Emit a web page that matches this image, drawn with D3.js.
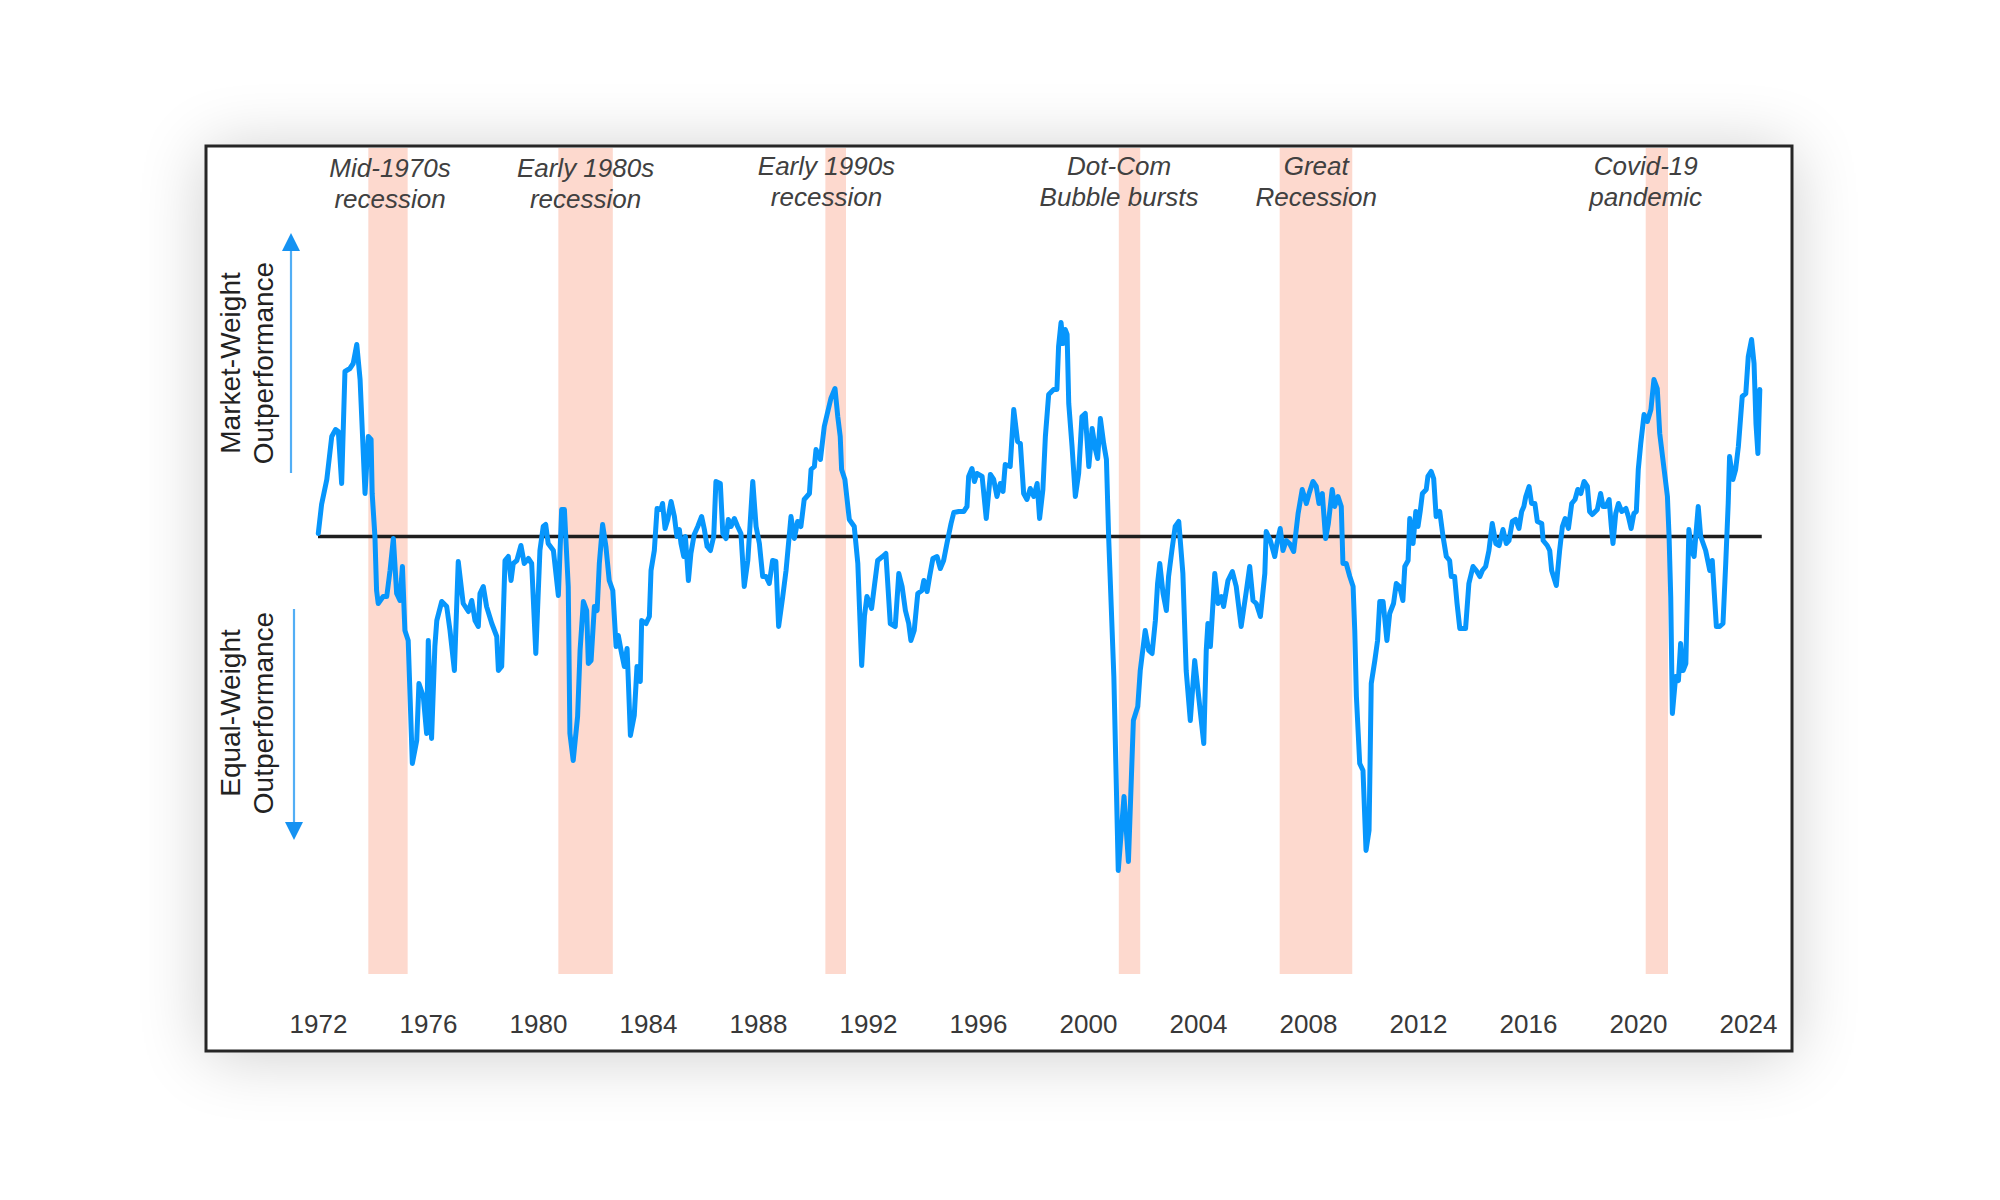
<!DOCTYPE html>
<html>
<head>
<meta charset="utf-8">
<script src="https://cdn.jsdelivr.net/npm/d3@7"></script>
<style>
  html, body { margin: 0; padding: 0; background: #ffffff; }
  svg { display: block; }
  text { font-family: "Liberation Sans", Arial, Helvetica, sans-serif; }
</style>
</head>
<body>
<svg id="chart" width="2000" height="1200"></svg>
<script>
// ---------------- DATA ----------------
const years = [
1972.01,1972.13,1972.32,1972.50,1972.64,1972.74,1972.86,1972.98,1973.16,1973.28,1973.41,1973.53,1973.71,1973.83,1973.93,1973.97,
1974.07,1974.13,1974.19,1974.37,1974.50,1974.62,1974.74,1974.86,1974.98,1975.07,1975.16,1975.28,1975.43,1975.59,1975.67,1975.83,1975.95,
1976.01,1976.13,1976.25,1976.32,1976.50,1976.68,1976.80,1976.96,1977.10,1977.28,1977.47,1977.59,1977.71,1977.83,1977.89,
1978.01,1978.13,1978.32,1978.50,1978.56,1978.68,1978.80,1978.92,1979.02,1979.10,1979.23,1979.38,1979.50,1979.65,1979.77,1979.92,
1980.07,1980.19,1980.28,1980.37,1980.56,1980.74,1980.86,1980.96,1981.10,1981.16,1981.28,1981.44,1981.53,1981.65,1981.77,1981.83,1981.93,
1982.05,1982.15,1982.23,1982.35,1982.47,1982.59,1982.72,1982.84,1982.92,1983.02,1983.14,1983.24,1983.36,1983.50,1983.60,1983.72,1983.77,1983.93,
1984.05,1984.11,1984.23,1984.33,1984.47,1984.53,1984.62,1984.72,1984.84,1984.96,1985.05,1985.14,1985.20,1985.30,1985.36,1985.47,1985.56,1985.68,1985.81,1985.95,
1986.05,1986.15,1986.27,1986.39,1986.47,1986.63,1986.72,1986.84,1986.92,1987.02,1987.14,1987.26,1987.38,1987.50,1987.63,1987.81,1987.93,
1988.05,1988.17,1988.29,1988.41,1988.53,1988.65,1988.75,1988.90,1989.02,1989.20,1989.32,1989.44,1989.56,1989.68,1989.87,1989.93,
1990.05,1990.11,1990.27,1990.41,1990.65,1990.80,1990.90,1990.99,1991.04,1991.16,1991.32,1991.50,1991.63,1991.77,1991.87,1991.96,
1992.13,1992.23,1992.35,1992.53,1992.65,1992.81,1992.99,1993.12,1993.24,1993.36,1993.48,1993.56,1993.68,1993.81,1993.96,
1994.03,1994.15,1994.24,1994.36,1994.51,1994.63,1994.75,1994.87,1995.02,1995.12,1995.30,1995.48,1995.60,1995.66,1995.78,1995.87,1995.96,
1996.15,1996.30,1996.45,1996.57,1996.69,1996.81,1996.91,1996.99,1997.17,1997.30,1997.44,1997.54,1997.66,1997.78,1997.90,
1998.03,1998.15,1998.24,1998.36,1998.45,1998.57,1998.75,1998.87,1998.93,1999.02,1999.09,1999.17,1999.24,1999.30,1999.42,1999.54,1999.66,1999.78,1999.90,
2000.03,2000.15,2000.27,2000.35,2000.45,2000.57,2000.67,2000.75,2000.94,2001.10,2001.31,2001.47,2001.65,2001.81,2001.90,
2002.08,2002.21,2002.33,2002.45,2002.53,2002.61,2002.73,2002.85,2002.93,2003.05,2003.17,2003.30,2003.45,2003.57,2003.72,2003.88,
2004.00,2004.21,2004.30,2004.36,2004.45,2004.61,2004.73,2004.85,2004.93,2005.09,2005.25,2005.39,2005.57,2005.76,2005.88,
2006.00,2006.12,2006.27,2006.43,2006.48,2006.63,2006.79,2006.87,2006.99,2007.09,2007.21,2007.33,2007.48,2007.64,2007.79,2007.94,
2008.04,2008.18,2008.30,2008.40,2008.52,2008.64,2008.74,2008.88,2008.97,2009.09,2009.21,2009.27,2009.39,2009.52,2009.64,2009.70,2009.76,2009.88,
2010.00,2010.11,2010.22,2010.30,2010.43,2010.53,2010.61,2010.73,2010.87,2010.97,2011.11,2011.21,2011.33,2011.45,2011.52,2011.64,2011.70,2011.82,2011.92,
2012.00,2012.08,2012.16,2012.30,2012.36,2012.48,2012.57,2012.66,2012.79,2012.91,2013.03,2013.15,2013.21,2013.33,2013.42,2013.52,2013.73,2013.85,
2014.00,2014.12,2014.25,2014.34,2014.46,2014.58,2014.70,2014.83,2014.95,2015.09,2015.21,2015.31,2015.43,2015.55,2015.67,2015.77,2015.85,2015.92,
2016.04,2016.13,2016.25,2016.34,2016.50,2016.55,2016.70,2016.79,2016.86,2017.03,2017.15,2017.25,2017.35,2017.47,2017.59,2017.71,2017.81,2017.92,
2018.04,2018.16,2018.24,2018.34,2018.52,2018.64,2018.73,2018.83,2018.95,2019.03,2019.09,2019.19,2019.29,2019.41,2019.56,2019.65,2019.75,2019.85,2019.94,
2020.01,2020.10,2020.22,2020.34,2020.47,2020.58,2020.70,2020.79,2020.95,2021.07,2021.13,2021.19,2021.25,2021.37,2021.47,2021.55,2021.64,2021.74,2021.85,2021.95,
2022.04,2022.10,2022.19,2022.28,2022.46,2022.61,2022.70,2022.85,2022.97,2023.09,2023.19,2023.28,2023.33,2023.45,2023.55,2023.65,2023.79,2023.92,
2024.01,2024.13,2024.22,2024.29,2024.36,2024.43
];
const values = [
0.3,3.2,5.7,10.0,10.7,10.5,5.3,16.5,16.8,17.3,19.2,15.7,4.3,10.0,9.7,4.3,
0.0,-5.4,-6.7,-6.0,-6.0,-3.4,-0.2,-5.7,-6.4,-3.0,-9.4,-10.4,-22.7,-20.4,-14.7,-16.0,-19.7,
-10.4,-20.2,-11.0,-8.4,-6.5,-7.0,-9.4,-13.4,-2.5,-6.7,-7.5,-6.4,-8.4,-9.0,-5.7,
-5.0,-7.0,-8.7,-10.0,-13.4,-13.0,-2.4,-2.0,-4.4,-2.7,-2.4,-0.9,-2.7,-2.2,-2.7,-11.7,
-1.4,1.0,1.2,-0.7,-1.4,-5.9,2.7,2.7,-5.0,-19.7,-22.4,-18.0,-11.4,-6.5,-7.4,-12.7,-12.4,
-7.0,-7.4,-2.7,1.2,-1.0,-4.4,-5.4,-11.0,-9.9,-11.4,-13.0,-11.2,-19.9,-17.9,-13.0,-14.5,-8.4,-8.7,
-8.0,-3.4,-1.4,2.8,2.7,3.3,0.8,1.7,3.5,2.0,0.0,0.7,-0.7,-2.0,0.0,-4.4,-1.7,0.2,1.0,2.0,
0.7,-1.0,-1.4,0.0,5.5,5.3,0.3,-0.2,1.7,1.0,1.8,1.0,0.3,-5.0,-2.4,5.5,1.0,
-0.7,-4.0,-4.0,-4.7,-2.4,-2.5,-9.0,-6.0,-3.4,2.0,-0.2,1.5,1.0,3.7,4.3,6.7,
7.0,8.7,7.7,11.0,13.8,14.8,12.0,10.0,6.7,5.7,1.7,1.0,-2.7,-12.9,-8.0,-6.0,
-7.2,-5.0,-2.4,-2.0,-1.7,-8.7,-9.0,-3.7,-5.0,-7.4,-8.7,-10.4,-9.4,-5.7,-5.4,
-4.4,-5.5,-4.0,-2.2,-2.0,-3.2,-2.4,-0.7,1.3,2.4,2.5,2.5,3.0,6.0,6.8,5.5,6.3,
6.0,1.8,6.2,5.7,4.0,5.3,4.5,7.2,7.0,12.7,9.5,9.3,4.3,3.7,4.8,
4.0,5.3,1.8,4.7,10.0,14.2,14.7,14.7,19.0,21.4,19.3,20.7,20.2,13.3,9.0,4.0,6.3,12.0,12.3,
7.0,10.8,8.7,7.8,11.8,9.3,7.7,0.0,-14.0,-33.4,-26.0,-32.5,-18.4,-17.0,-13.4,
-9.4,-11.4,-11.7,-8.4,-4.7,-2.7,-5.7,-7.4,-4.0,-1.4,1.0,1.5,-3.7,-13.4,-18.4,-12.4,
-15.4,-20.7,-11.4,-8.7,-11.0,-3.7,-6.7,-6.0,-7.0,-4.4,-3.5,-5.0,-9.0,-5.4,-3.0,
-6.4,-6.7,-8.0,-3.7,0.5,-0.4,-2.0,-0.7,0.8,-1.4,-0.4,-0.7,-1.5,2.3,4.7,3.3,
4.3,5.5,5.0,3.3,4.3,-0.2,1.3,4.7,3.0,4.0,3.0,-2.7,-2.7,-4.0,-5.0,-9.4,-16.0,-22.7,
-23.4,-31.4,-29.4,-14.7,-12.4,-10.4,-6.5,-6.5,-10.4,-7.7,-6.7,-4.7,-5.0,-6.4,-3.0,-2.4,1.8,-0.7,2.5,
1.0,2.5,4.3,4.7,6.0,6.5,5.8,2.0,2.5,0.0,-2.0,-2.4,-4.0,-4.0,-6.7,-9.2,-9.2,-4.7,
-3.0,-3.4,-4.0,-3.4,-3.0,-1.4,1.3,-0.7,-0.9,0.7,-0.7,-0.4,1.5,1.7,0.8,2.5,3.0,4.0,
5.0,3.3,3.3,1.5,1.3,-0.4,-0.9,-1.4,-3.4,-4.9,-1.4,1.0,1.8,0.8,3.3,3.7,4.7,4.3,
5.5,5.0,2.5,2.2,2.7,4.3,3.0,3.0,3.7,1.0,-0.7,2.3,3.3,2.5,2.8,2.0,0.8,2.3,2.5,
6.7,9.3,12.2,11.5,12.7,15.7,14.8,10.3,6.7,4.0,0.0,-6.0,-17.7,-14.0,-14.4,-10.7,-13.4,-12.7,0.7,-1.4,
-2.0,0.0,3.0,0.0,-1.4,-3.4,-2.4,-9.0,-9.0,-8.7,-2.7,3.3,8.0,5.7,6.7,9.0,14.0,14.3,
18.0,19.7,17.3,11.3,8.3,14.7
];
const recessionStart = [1973.83, 1980.74, 1990.45, 2001.12, 2006.97, 2020.28];
const recessionEnd   = [1975.26, 1982.72, 1991.20, 2001.90, 2009.61, 2021.09];
const recessionLine1 = ["Mid-1970s", "Early 1980s", "Early 1990s", "Dot-Com", "Great", "Covid-19"];
const recessionLine2 = ["recession", "recession", "recession", "Bubble bursts", "Recession", "pandemic"];
const labelYear      = [1974.62, 1981.73, 1990.49, 2001.13, 2008.30, 2020.28];
const tickYears = [1972, 1976, 1980, 1984, 1988, 1992, 1996, 2000, 2004, 2008, 2012, 2016, 2020, 2024];
const zeroLineYears = [1972.0, 2024.5];
const upLabel = ["Market-Weight", "Outperformance"];
const downLabel = ["Equal-Weight", "Outperformance"];

// ---------------- LAYOUT ----------------
const svg = d3.select("#chart");
const frame = { x: 206, y: 146, w: 1586, h: 905 };
const bandTop = 148, bandBottom = 974;

const x = d3.scaleLinear().domain([1972, 2024]).range([318, 1748]);
const y = d3.scaleLinear().domain([30, -30]).range([236.5, 836.5]);

const defs = svg.append("defs");
const f = defs.append("filter").attr("id", "shadow")
  .attr("x", "-20%").attr("y", "-25%").attr("width", "140%").attr("height", "150%");
f.append("feGaussianBlur").attr("stdDeviation", 34);

// shadow
svg.append("rect")
  .attr("x", frame.x).attr("y", frame.y + 4).attr("width", frame.w).attr("height", frame.h)
  .attr("fill", "#000").attr("opacity", 0.2).attr("filter", "url(#shadow)");

// frame
svg.append("rect")
  .attr("x", frame.x).attr("y", frame.y).attr("width", frame.w).attr("height", frame.h)
  .attr("fill", "#ffffff");

// recession bands
const bands = recessionStart.map((s, i) => ({ s, e: recessionEnd[i] }));
svg.append("g").selectAll("rect").data(bands).join("rect")
  .attr("x", d => x(d.s)).attr("width", d => x(d.e) - x(d.s))
  .attr("y", bandTop).attr("height", bandBottom - bandTop)
  .attr("fill", "#fdd9ce");

// annotations
const ann = svg.append("g").attr("fill", "#404040")
  .attr("font-size", 26).attr("font-style", "italic").attr("text-anchor", "middle");
labelYear.forEach((yr, i) => {
  const base = i < 2 ? 177 : 175;
  ann.append("text").attr("x", x(yr)).attr("y", base).text(recessionLine1[i]);
  ann.append("text").attr("x", x(yr)).attr("y", base + 31).text(recessionLine2[i]);
});

// zero line
svg.append("line")
  .attr("x1", x(zeroLineYears[0])).attr("x2", x(zeroLineYears[1]))
  .attr("y1", y(0)).attr("y2", y(0))
  .attr("stroke", "#1e1e1e").attr("stroke-width", 3.5);

// data line
const pts = years.map((yr, i) => [yr, values[i]]);
svg.append("path")
  .datum(pts)
  .attr("fill", "none")
  .attr("stroke", "#0796fc")
  .attr("stroke-width", 5)
  .attr("stroke-linejoin", "round")
  .attr("stroke-linecap", "round")
  .attr("d", d3.line().x(d => x(d[0])).y(d => y(d[1])));

// x axis
const ax = svg.append("g").attr("transform", "translate(0,1005)")
  .call(d3.axisBottom(x).tickValues(tickYears).tickFormat(d3.format("d")).tickSize(0).tickPadding(10));
ax.select(".domain").remove();
ax.selectAll("text").attr("font-size", 26).attr("fill", "#383838")
  .attr("font-family", "'Liberation Sans', Arial, sans-serif");

// y-side labels
function sideLabel(lines, cy) {
  svg.append("text").attr("transform", `translate(240,${cy}) rotate(-90)`)
    .attr("text-anchor", "middle").attr("font-size", 28).attr("fill", "#222").text(lines[0]);
  svg.append("text").attr("transform", `translate(273,${cy}) rotate(-90)`)
    .attr("text-anchor", "middle").attr("font-size", 28).attr("fill", "#222").text(lines[1]);
}
sideLabel(upLabel, 363);
sideLabel(downLabel, 713);

// arrows
svg.append("line").attr("x1", 291).attr("x2", 291).attr("y1", 473).attr("y2", 248)
  .attr("stroke", "#52aef5").attr("stroke-width", 2.2);
svg.append("path").attr("d", "M291,233 L282,251 L300,251 Z").attr("fill", "#1592f2");
svg.append("line").attr("x1", 294).attr("x2", 294).attr("y1", 609).attr("y2", 826)
  .attr("stroke", "#52aef5").attr("stroke-width", 2.2);
svg.append("path").attr("d", "M294,840 L285,822 L303,822 Z").attr("fill", "#1592f2");

// frame border on top
svg.append("rect")
  .attr("x", frame.x).attr("y", frame.y).attr("width", frame.w).attr("height", frame.h)
  .attr("fill", "none").attr("stroke", "#262626").attr("stroke-width", 3);
</script>
</body>
</html>
